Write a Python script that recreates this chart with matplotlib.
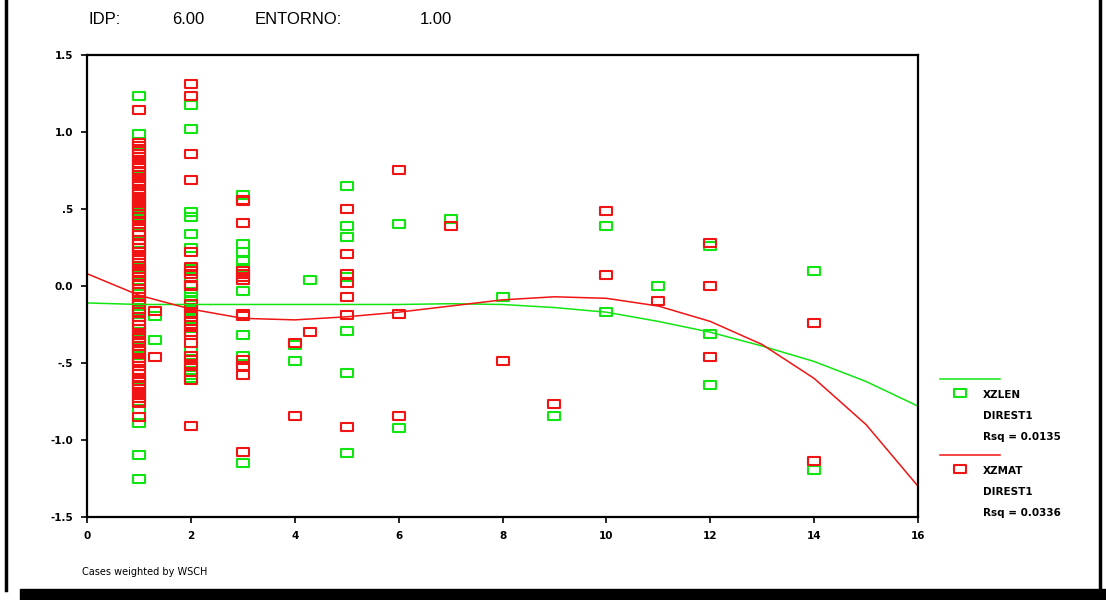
import matplotlib
matplotlib.use("Agg")
import matplotlib.pyplot as plt
from matplotlib.lines import Line2D
from matplotlib.patches import Rectangle
from matplotlib.path import Path

# ---------------------------------------------------------------------------
# Data (x = group, y = standardised score)
# ---------------------------------------------------------------------------
zlen_x = ([1] * 32 + [1.3, 1.3] + [2] * 20 + [3] * 9 + [4, 4, 4.3] + [5] * 7
          + [6, 6] + [7] + [8] + [9] + [10, 10] + [11] + [12, 12, 12] + [14, 14])
zlen_y = [
    # x = 1
    1.236, 0.99, 0.93, 0.87, 0.74, 0.71, 0.63, 0.53, 0.49, 0.455, 0.34, 0.28,
    0.23, 0.125, 0.08, 0.04, -0.05, -0.09, -0.117, -0.156, -0.18, -0.30, -0.37,
    -0.40, -0.45, -0.50, -0.61, -0.65, -0.80, -0.89, -1.10, -1.255,
    # x = 1.3
    -0.195, -0.35,
    # x = 2
    1.175, 1.02, 0.48, 0.45, 0.34, 0.245, 0.11, 0.05, -0.037, -0.07, 0.0,
    -0.12, -0.205, -0.27, -0.42, -0.58, -0.10, -0.16, -0.50, -0.60,
    # x = 3
    0.59, 0.27, 0.22, 0.16, 0.12, -0.03, -0.32, -0.455, -1.147,
    # x = 4, 4.3
    -0.383, -0.485, 0.04,
    # x = 5
    0.65, 0.39, 0.32, 0.06, -0.29, -0.563, -1.086,
    # x = 6 .. 14
    0.40, -0.924, 0.433, -0.07, -0.844, 0.39, -0.17, 0.0, 0.26, -0.31, -0.643,
    0.10, -1.195,
]

zmat_x = ([1] * 72 + [1.3, 1.3] + [2] * 24 + [3] * 13 + [4, 4, 4.3] + [5] * 7
          + [6, 6, 6] + [7] + [8] + [9] + [10, 10] + [11] + [12, 12, 12]
          + [14, 14])
zmat_y = [
    # x = 1
    1.143, 0.93, 0.91, 0.89, 0.86, 0.84, 0.82, 0.79, 0.77, 0.75, 0.72, 0.70,
    0.68, 0.66, 0.62, 0.60, 0.58, 0.56, 0.54, 0.52, 0.50, 0.47, 0.45, 0.42,
    0.38, 0.35, 0.33, 0.30, 0.27, 0.25, 0.22, 0.20, 0.18, 0.15, 0.13, 0.11,
    0.09, 0.06, 0.03, 0.01, -0.02, -0.04, -0.07, -0.10, -0.12, -0.15, -0.17,
    -0.20, -0.23, -0.25, -0.28, -0.32, -0.34, -0.36, -0.39, -0.42, -0.44,
    -0.47, -0.49, -0.52, -0.55, -0.57, -0.60, -0.62, -0.64, -0.67, -0.69,
    -0.71, -0.73, -0.75, -0.76, -0.85,
    # x = 1.3
    -0.16, -0.46,
    # x = 2
    1.31, 1.236, 0.86, 0.69, 0.22, 0.125, 0.08, 0.0, 0.006, -0.12, -0.145,
    -0.18, -0.23, -0.30, -0.32, -0.37, -0.455, -0.48, -0.52, -0.556, -0.61,
    -0.907, 0.10, -0.25,
    # x = 3
    0.56, 0.55, 0.41, 0.08, 0.06, 0.04, -0.18, -0.195, -0.48, -0.52, -0.58,
    -1.076, 0.10,
    # x = 4, 4.3
    -0.372, -0.844, -0.30,
    # x = 5
    0.50, 0.21, 0.078, 0.017, -0.073, -0.19, -0.914,
    # x = 6 .. 14
    0.753, -0.18, -0.844, 0.39, -0.485, -0.766, 0.49, 0.07, -0.10, 0.28, 0.0,
    -0.463, -0.24, -1.136,
]

# fitted curves (DIREST1)
fit_x = [0, 1, 2, 3, 4, 5, 6, 7, 8, 9, 10, 11, 12, 13, 14, 15, 16]
fit_zlen = [-0.11, -0.12, -0.12, -0.12, -0.12, -0.12, -0.12, -0.115, -0.12,
            -0.14, -0.17, -0.23, -0.30, -0.39, -0.49, -0.62, -0.78]
fit_zmat = [0.08, -0.06, -0.15, -0.21, -0.22, -0.20, -0.17, -0.13, -0.09,
            -0.07, -0.08, -0.13, -0.23, -0.38, -0.60, -0.90, -1.30]

x_ticks = [0, 2, 4, 6, 8, 10, 12, 14, 16]
y_ticks = [-1.5, -1.0, -0.5, 0.0, 0.5, 1.0, 1.5]
y_tick_labels = ["-1.5", "-1.0", "-.5", "0.0", ".5", "1.0", "1.5"]

GREEN = "#12e612"
RED = "#f01414"
W, H = 1106, 600

# wide open rectangle, like the SPSS marker
BOX = Path([(-5.5, -3.8), (5.5, -3.8), (5.5, 3.8), (-5.5, 3.8), (-5.5, -3.8)],
           [Path.MOVETO, Path.LINETO, Path.LINETO, Path.LINETO, Path.CLOSEPOLY])
MS, MEW = 8, 1.5


def fx(px):
    return px / W


def fy(py):
    return 1 - py / H


fig = plt.figure(figsize=(W / 100, H / 100), dpi=100)
ax = fig.add_axes([fx(87), fy(517), fx(918) - fx(87), fy(55) - fy(517)])

ax.plot(zlen_x, zlen_y, ls="none", marker=BOX, ms=MS, mfc="none",
        mec=GREEN, mew=MEW)
ax.plot(zmat_x, zmat_y, ls="none", marker=BOX, ms=MS, mfc="none",
        mec=RED, mew=MEW)
ax.plot(fit_x, fit_zlen, color=GREEN, lw=1.1)
ax.plot(fit_x, fit_zmat, color=RED, lw=1.1)

ax.set_xlim(0, 16)
ax.set_ylim(-1.5, 1.5)
ax.set_xticks(x_ticks)
ax.set_yticks(y_ticks)
ax.set_yticklabels(y_tick_labels)
ax.tick_params(direction="out", length=4, width=1.2, labelsize=7.5, pad=6)
for lab in ax.get_xticklabels() + ax.get_yticklabels():
    lab.set_fontweight("bold")
for sp in ax.spines.values():
    sp.set_linewidth(1.6)

# title line
for px, txt in [(88, "IDP:"), (172, "6.00"), (255, "ENTORNO:"), (420, "1.00")]:
    fig.text(fx(px), fy(20), txt, fontsize=12, family="Liberation Sans",
             va="center", ha="left")

# legend drawn by hand at the right
leg_rows = [
    (379, GREEN, "XZLEN", "Rsq = 0.0135"),
    (455, RED, "XZMAT", "Rsq = 0.0336"),
]
for py, col, name, rsq in leg_rows:
    fig.add_artist(Line2D([fx(940), fx(1000)], [fy(py), fy(py)], color=col,
                          lw=1.1))
    fig.add_artist(Line2D([fx(960)], [fy(py + 14)], ls="none", marker=BOX,
                          ms=MS, mfc="none", mec=col, mew=MEW))
    fig.text(fx(983), fy(py + 16), name, fontsize=7.5, fontweight="bold",
             va="center")
    fig.text(fx(983), fy(py + 37), "DIREST1", fontsize=7.5, fontweight="bold",
             va="center")
    fig.text(fx(983), fy(py + 58), rsq, fontsize=7.5, fontweight="bold",
             va="center")

fig.text(fx(82), fy(572), "Cases weighted by WSCH", fontsize=7, va="center")

# page frame
fig.add_artist(Line2D([fx(6), fx(6)], [fy(0), fy(590)], color="black", lw=2.5))
fig.add_artist(Line2D([fx(1100), fx(1100)], [fy(0), fy(590)], color="black",
                      lw=2.5))
fig.add_artist(Rectangle((fx(20), 0), 1 - fx(20), fy(589), color="black",
                         transform=fig.transFigure))

fig.savefig("out.png", dpi=100)
